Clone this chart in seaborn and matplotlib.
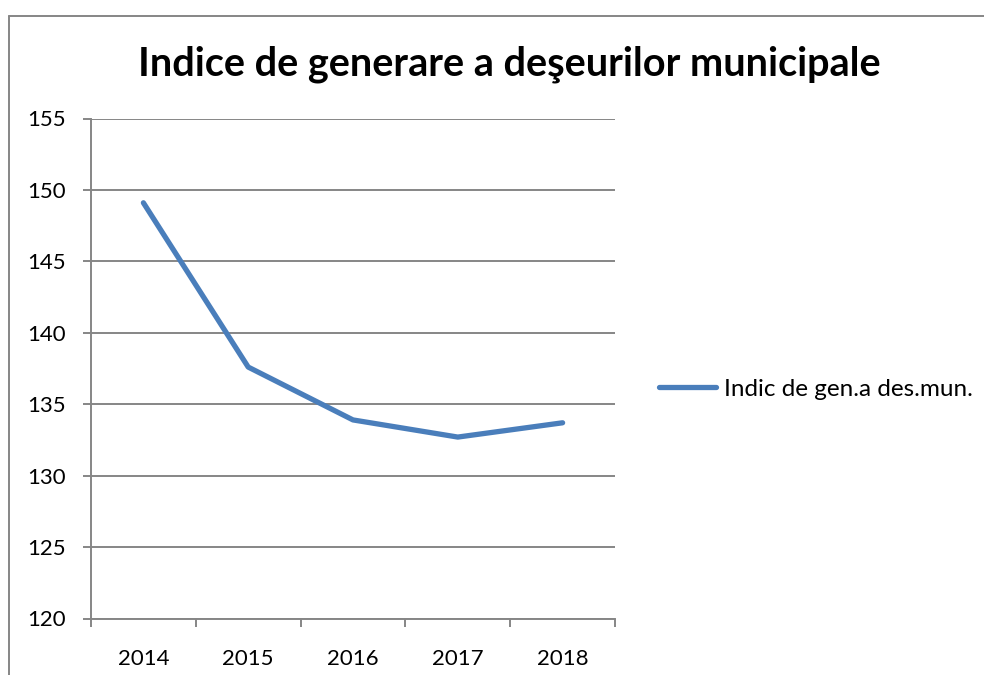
import matplotlib
matplotlib.use("Agg")
import matplotlib.pyplot as plt
import seaborn as sns
import pandas as pd
from matplotlib.lines import Line2D
from matplotlib.ticker import FixedLocator, NullFormatter

years = [2014, 2015, 2016, 2017, 2018]
values = [149.1, 137.6, 133.9, 132.7, 133.7]
series_name = "Indic de gen.a des.mun."
title = "Indice de generare a deşeurilor municipale"
y_ticks = [120, 125, 130, 135, 140, 145, 150, 155]

sns.set_theme(style="white")
plt.rcParams['font.family'] = ['Lato', 'DejaVu Sans']
plt.rcParams['text.color'] = 'black'

df = pd.DataFrame({"an": years, "val": values, "serie": series_name})

fig = plt.figure(figsize=(9.84, 6.75), dpi=100)
ax = fig.add_axes([91/984, 56.5/675, (615-91)/984, 500/675])

sns.lineplot(data=df, x="an", y="val", hue="serie", palette=["#4A7EBB"],
             linewidth=3.8, ax=ax, legend=False, solid_capstyle="round")

grid_c = "#868686"
ax.set_xlim(2013.5, 2018.5)
ax.set_ylim(120, 155)
ax.set_yticks(y_ticks)
ax.yaxis.grid(True, color=grid_c, linewidth=1.4)
ax.xaxis.grid(False)
for s in ["top", "right"]:
    ax.spines[s].set_visible(False)
for s in ["left", "bottom"]:
    ax.spines[s].set_color(grid_c)
    ax.spines[s].set_linewidth(1.4)

ax.xaxis.set_major_locator(FixedLocator([y - 0.5 for y in years] + [years[-1] + 0.5]))
ax.xaxis.set_major_formatter(NullFormatter())
ax.xaxis.set_minor_locator(FixedLocator(years))
ax.set_xticklabels([str(y) for y in years], minor=True)
ax.tick_params(axis="x", which="major", direction="out", length=6, width=1.4, color=grid_c, bottom=True)
ax.tick_params(axis="x", which="minor", length=0, pad=22, labelsize=16, labelcolor="black", bottom=True)
ax.tick_params(axis="y", direction="out", length=6, width=1.4, color=grid_c, pad=12,
               labelsize=16, labelcolor="black", left=True)
ax.set_xlabel("")
ax.set_ylabel("")

handle = Line2D([], [], color="#4A7EBB", linewidth=3.8, solid_capstyle="round")
fig.legend([handle], [series_name], loc="center left",
           bbox_to_anchor=(647/984, 1 - 389/675), frameon=False, borderpad=0,
           handlelength=2.35, handletextpad=0.3, fontsize=17.5)

fig.text(509.5/984, 1 - 64/675, title, ha="center", va="center",
         fontsize=28.5, fontweight="bold", color="black")

# outer chart border (left and top edges visible)
fig.add_artist(Line2D([8.5/984, 8.5/984], [0, 1 - 16/675], transform=fig.transFigure,
                      color=grid_c, linewidth=1.4))
fig.add_artist(Line2D([8.5/984, 1], [1 - 16/675, 1 - 16/675], transform=fig.transFigure,
                      color=grid_c, linewidth=1.4))

fig.savefig("out.png", dpi=100)
